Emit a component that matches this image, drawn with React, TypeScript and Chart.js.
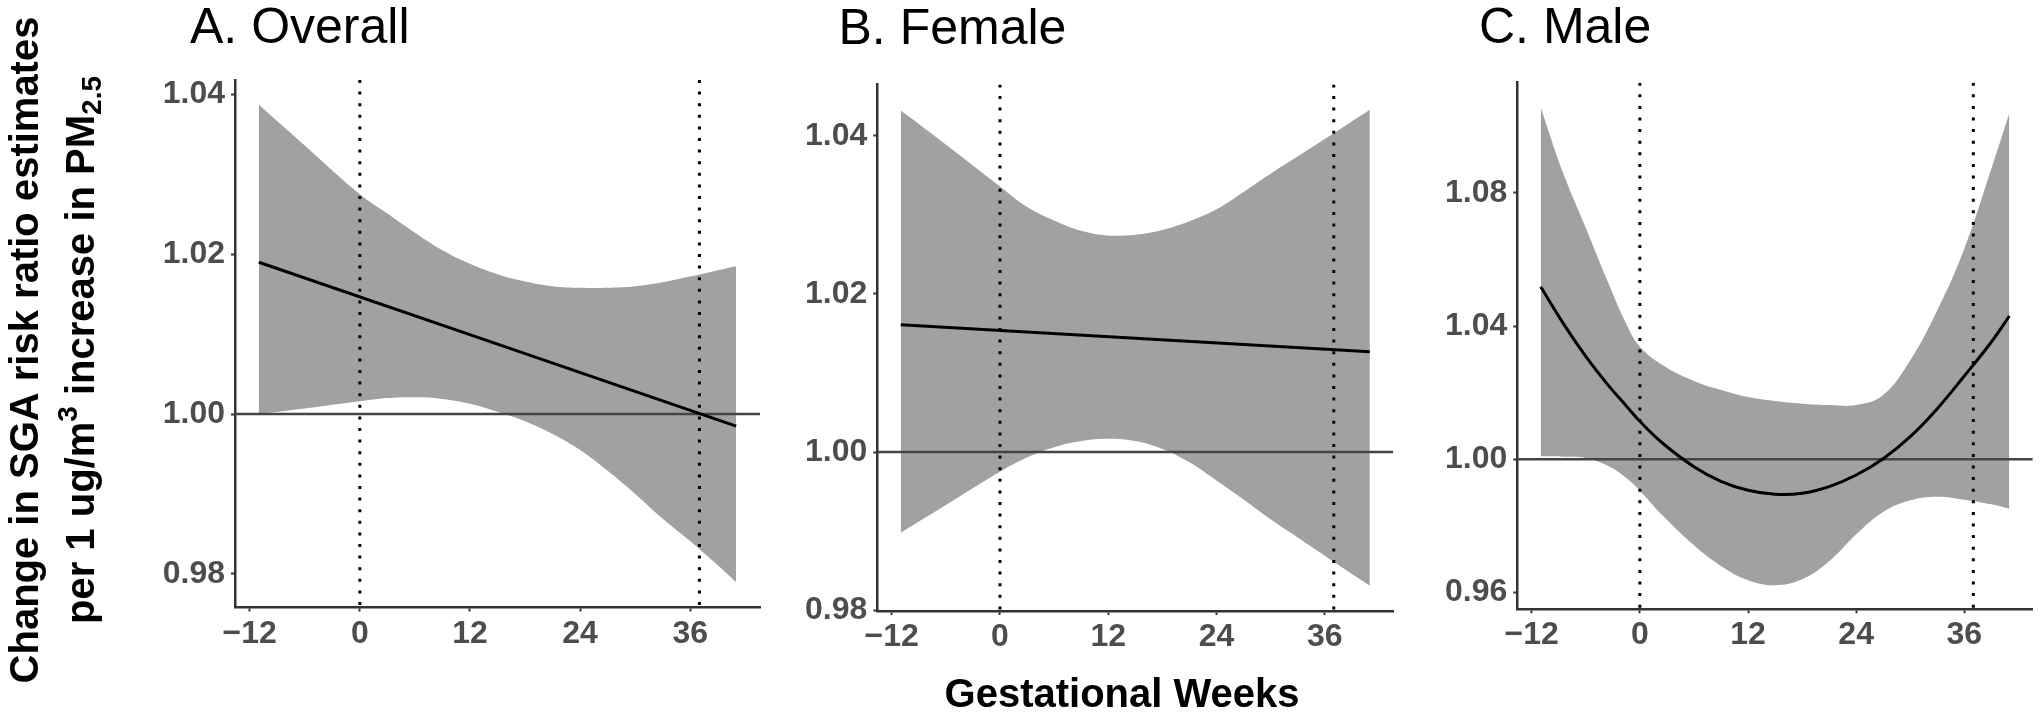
import React, { useEffect, useRef } from 'react';
import { Chart, registerables } from 'chart.js';

Chart.register(...registerables);

const FONT = '"Liberation Sans", Arial, Helvetica, sans-serif';

// ---------- data ----------
const weekTicks = [-12, 0, 12, 24, 36];
const markerWeeks = [0, 37];
const weekRange = [-13.6, 43.6];
const nullRatio = 1;

const panelTitles = ['A. Overall', 'B. Female', 'C. Male'];
const xAxisTitle = 'Gestational Weeks';
const yTitleLine1 = 'Change in SGA risk ratio estimates';
const yTitleLine2 = [
  { text: 'per 1 ug/m', kind: 'normal' },
  { text: '3', kind: 'sup' },
  { text: ' increase in PM', kind: 'normal' },
  { text: '2.5', kind: 'sub' },
];

// A. Overall
const overallWeeks = [-11, -6, 0, 3, 6, 9, 12, 15, 18, 21, 24, 27, 30, 33, 36, 39, 41];
const overallUpper = [1.0387, 1.0336, 1.0275, 1.0251, 1.0227, 1.0205, 1.0188, 1.0175, 1.0166, 1.016, 1.0158, 1.0158, 1.016, 1.0165, 1.0172, 1.018, 1.0185];
const overallLower = [1.0, 1.0007, 1.0016, 1.002, 1.0021, 1.0019, 1.0013, 1.0003, 0.9991, 0.9975, 0.9955, 0.9929, 0.99, 0.9869, 0.9841, 0.9811, 0.979];
const overallEstWeeks = [-11, 41];
const overallEst = [1.019, 0.9985];
const overallYTicks = [0.98, 1.0, 1.02, 1.04];
const overallYRange = [0.9758, 1.0418];

// B. Female
const femaleWeeks = [-11, -6, 0, 3, 6, 9, 12, 15, 18, 21, 24, 27, 30, 33, 36, 41];
const femaleUpper = [1.0432, 1.0389, 1.0336, 1.031, 1.0293, 1.028, 1.0274, 1.0275, 1.0281, 1.0292, 1.0307, 1.0329, 1.0352, 1.0374, 1.0396, 1.0433];
const femaleLower = [0.9898, 0.9933, 0.9975, 0.9993, 1.0006, 1.0014, 1.0017, 1.0014, 1.0004, 0.9987, 0.9964, 0.994, 0.9915, 0.9892, 0.9869, 0.9831];
const femaleEstWeeks = [-11, 41];
const femaleEst = [1.0161, 1.0127];
const femaleYTicks = [0.98, 1.0, 1.02, 1.04];
const femaleYRange = [0.9799, 1.0465];

// C. Male
const maleWeeks = [-11, -8.5, -6, -3.5, -1.5, 0, 2.5, 6, 9, 12, 15, 18, 21, 24, 27, 30, 33, 36, 39, 41];
const maleUpper = [1.1055, 1.0858, 1.0694, 1.0529, 1.0406, 1.0338, 1.0283, 1.0235, 1.0208, 1.0187, 1.0175, 1.0167, 1.0163, 1.0163, 1.0193, 1.0297, 1.0447, 1.0632, 1.0872, 1.1038];
const maleLower = [1.0009, 1.0008, 1.0004, 0.998, 0.9944, 0.9906, 0.9832, 0.9742, 0.968, 0.9637, 0.9622, 0.964, 0.9694, 0.9775, 0.9842, 0.9877, 0.9888, 0.9879, 0.9865, 0.9852];
const maleEstWeeks = [-11, -8.5, -6, -3.5, -1.5, 0, 2.5, 6, 9, 12, 15, 18, 21, 24, 27, 30, 33, 36, 39, 41];
const maleEst = [1.0518, 1.0408, 1.0309, 1.0222, 1.016, 1.0114, 1.0049, 0.9978, 0.9934, 0.9907, 0.9895, 0.9898, 0.9918, 0.9953, 1.0002, 1.0068, 1.0152, 1.025, 1.0352, 1.043];
const maleYTicks = [0.96, 1.0, 1.04, 1.08];
const maleYRange = [0.955, 1.113];

// ---------- layout (page pixels) ----------
const PAGE_W = 2040;
const PAGE_H = 715;
const AXIS_W = 80;
const AXIS_H = 50;

type Frame = {
  left: number; width: number;
  padL: number; padR: number; padT: number; padB: number;
  titleX: number; titleY: number;
  yTitle?: boolean; xTitle?: { x: number; y: number };
};

const panels = [
  {
    title: panelTitles[0], weeks: overallWeeks, upper: overallUpper, lower: overallLower,
    estWeeks: overallEstWeeks, est: overallEst, yTicks: overallYTicks, yRange: overallYRange,
    frame: { left: 0, width: 790, padL: 155, padR: 30, padT: 80, padB: 57.5, titleX: 190, titleY: 43, yTitle: true } as Frame,
  },
  {
    title: panelTitles[1], weeks: femaleWeeks, upper: femaleUpper, lower: femaleLower,
    estWeeks: femaleEstWeeks, est: femaleEst, yTicks: femaleYTicks, yRange: femaleYRange,
    frame: { left: 790, width: 620, padL: 7.3, padR: 16.7, padT: 84.4, padB: 54, titleX: 48.5, titleY: 44, xTitle: { x: 332, y: 707 } } as Frame,
  },
  {
    title: panelTitles[2], weeks: maleWeeks, upper: maleUpper, lower: maleLower,
    estWeeks: maleEstWeeks, est: maleEst, yTicks: maleYTicks, yRange: maleYRange,
    frame: { left: 1410, width: 630, padL: 27.3, padR: 7.2, padT: 82.7, padB: 55.7, titleX: 69, titleY: 43.4 } as Frame,
  },
];

type Run = { text: string; kind: string };

function drawRuns(ctx: CanvasRenderingContext2D, runs: Run[], size: number, cx: number, baseY: number) {
  const fontFor = (r: Run) => `bold ${r.kind === 'normal' ? size : Math.round(size * 0.7)}px ${FONT}`;
  const widths = runs.map((r) => { ctx.font = fontFor(r); return ctx.measureText(r.text).width; });
  const total = widths.reduce((a, b) => a + b, 0);
  let x = cx - total / 2;
  runs.forEach((r, i) => {
    ctx.font = fontFor(r);
    const dy = r.kind === 'sup' ? -0.42 * size : r.kind === 'sub' ? 0.17 * size : 0;
    ctx.fillText(r.text, x, baseY + dy);
    x += widths[i];
  });
}

const textPlugin = {
  id: 'panelText',
  afterDraw(chart: any, _args: any, opts: any) {
    const ctx: CanvasRenderingContext2D = chart.ctx;
    ctx.save();
    ctx.fillStyle = '#000000';
    ctx.textBaseline = 'alphabetic';
    ctx.textAlign = 'left';
    ctx.font = `normal 50px ${FONT}`;
    ctx.fillText(opts.title, opts.titleX, opts.titleY);
    if (opts.yTitle) {
      const yc = 350;
      ctx.save();
      ctx.translate(38, yc);
      ctx.rotate(-Math.PI / 2);
      drawRuns(ctx, [{ text: yTitleLine1, kind: 'normal' }], 40, 0, 0);
      ctx.restore();
      ctx.save();
      ctx.translate(94, yc);
      ctx.rotate(-Math.PI / 2);
      drawRuns(ctx, yTitleLine2, 40, 0, 0);
      ctx.restore();
    }
    if (opts.xTitle) {
      drawRuns(ctx, [{ text: xAxisTitle, kind: 'normal' }], 40, opts.xTitle.x, opts.xTitle.y);
    }
    ctx.restore();
  },
};

function buildConfig(p: typeof panels[number]): any {
  const f = p.frame;
  const pts = (xs: number[], ys: number[]) => ys.map((y, i) => ({ x: xs[i], y }));
  const datasets: any[] = [
    {
      data: pts(p.estWeeks, p.est),
      borderColor: '#000000', borderWidth: 3, pointRadius: 0, fill: false,
      tension: 0.4,
    },
    ...markerWeeks.map((w) => ({
      data: [{ x: w, y: p.yRange[1] }, { x: w, y: p.yRange[0] }],
      borderColor: '#000000', borderWidth: 3, borderDash: [3, 8.6], borderCapStyle: 'butt',
      pointRadius: 0, fill: false, tension: 0,
    })),
    {
      data: [{ x: weekRange[0], y: nullRatio }, { x: weekRange[1], y: nullRatio }],
      borderColor: '#454545', borderWidth: 2.5, pointRadius: 0, fill: false, tension: 0,
    },
    {
      data: pts(p.weeks, p.upper),
      borderWidth: 0, borderColor: 'rgba(0,0,0,0)', pointRadius: 0,
      fill: '+1', backgroundColor: '#A1A1A1', tension: 0.4,
    },
    {
      data: pts(p.weeks, p.lower),
      borderWidth: 0, borderColor: 'rgba(0,0,0,0)', pointRadius: 0,
      fill: false, tension: 0.4,
    },
  ];
  const tickFont = { family: FONT, size: 32, weight: 'bold' };
  return {
    type: 'line',
    data: { datasets },
    plugins: [textPlugin],
    options: {
      animation: false,
      responsive: false,
      devicePixelRatio: 1,
      events: [],
      layout: { padding: { left: f.padL, right: f.padR, top: f.padT, bottom: f.padB } },
      plugins: {
        legend: { display: false },
        tooltip: { enabled: false },
        title: { display: false },
        panelText: {
          title: p.title, titleX: f.titleX, titleY: f.titleY,
          yTitle: !!f.yTitle, xTitle: f.xTitle || null,
        },
      },
      scales: {
        x: {
          type: 'linear',
          min: weekRange[0], max: weekRange[1],
          afterBuildTicks: (s: any) => { s.ticks = weekTicks.map((v) => ({ value: v })); },
          afterFit: (s: any) => { s.height = AXIS_H; },
          grid: { display: true, drawOnChartArea: false, drawTicks: true, tickLength: 4, tickColor: '#333333', tickWidth: 2 },
          border: { display: true, color: '#333333', width: 2.5 },
          ticks: {
            font: tickFont, color: '#4D4D4D', padding: 3, maxRotation: 0, autoSkip: false,
            callback: (v: any) => (Number(v) < 0 ? '\u2212' + Math.abs(Number(v)) : String(v)),
          },
        },
        y: {
          type: 'linear',
          min: p.yRange[0], max: p.yRange[1],
          afterBuildTicks: (s: any) => { s.ticks = p.yTicks.map((v) => ({ value: v })); },
          afterFit: (s: any) => { s.width = AXIS_W; },
          grid: { display: true, drawOnChartArea: false, drawTicks: true, tickLength: 4, tickColor: '#333333', tickWidth: 2 },
          border: { display: true, color: '#333333', width: 2.5 },
          ticks: {
            font: tickFont, color: '#4D4D4D', padding: 6, autoSkip: false,
            callback: (v: any) => Number(v).toFixed(2),
          },
        },
      },
    },
  };
}

function Panel({ p }: { p: typeof panels[number] }) {
  const ref = useRef<HTMLCanvasElement | null>(null);
  useEffect(() => {
    if (!ref.current) return;
    const chart = new Chart(ref.current, buildConfig(p));
    return () => chart.destroy();
  }, [p]);
  return (
    <canvas
      ref={ref}
      width={p.frame.width}
      height={PAGE_H}
      style={{ position: 'absolute', left: p.frame.left, top: 0, width: p.frame.width, height: PAGE_H }}
    />
  );
}

export default function App() {
  useEffect(() => {
    document.body.style.margin = '0';
    document.body.style.overflow = 'hidden';
  }, []);
  return (
    <div style={{ position: 'absolute', left: 0, top: 0, width: PAGE_W, height: PAGE_H, background: '#ffffff', overflow: 'hidden' }}>
      {panels.map((p) => (
        <Panel key={p.title} p={p} />
      ))}
    </div>
  );
}
